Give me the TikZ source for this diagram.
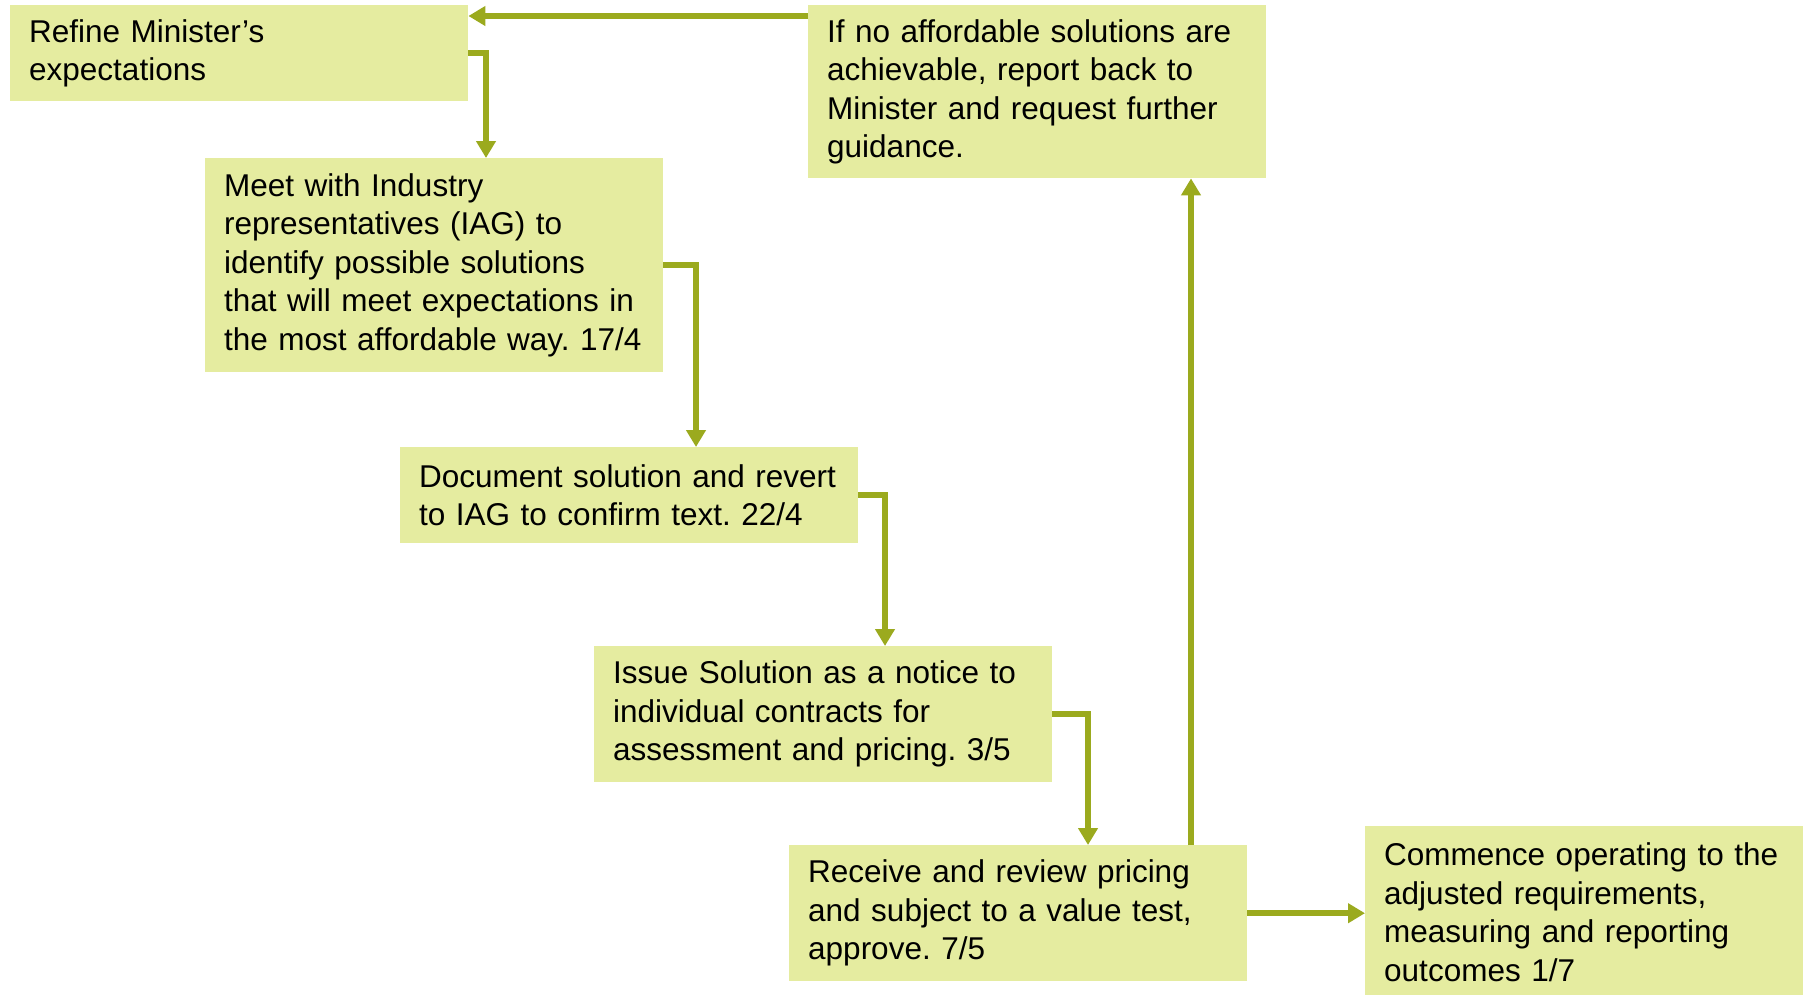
\documentclass[tikz,border=0pt]{standalone}
\usepackage{fontspec}
\setmainfont{Liberation Sans}
\usetikzlibrary{arrows.meta}
\definecolor{boxfill}{RGB}{229,236,160}
\definecolor{flowline}{RGB}{155,170,30}
\newcommand{\stepfont}{\fontsize{31.5}{38.4}\selectfont\frenchspacing\hyphenpenalty=10000\relax}
\begin{document}
\begin{tikzpicture}[x=1pt,y=-1pt,
  stepbox/.style={draw=none, fill=boxfill, anchor=north west,
    inner xsep=19pt, inner ysep=0pt, text width=420pt, align=left,
    font=\stepfont},
  flow/.style={draw=flowline, line width=6.5pt,
    -{Triangle[width=19pt,length=17pt]}}]
\useasboundingbox (0,0) rectangle (1803,994);

% process steps
\node[stepbox, minimum height=96pt] (A) at (10,5)
  {Refine Minister’s\\expectations};
\node[stepbox, minimum height=214pt] (B) at (205,158)
  {Meet with Industry\\representatives (IAG) to\\identify possible solutions\\that will meet expectations in\\the most affordable way. 17/4};
\node[stepbox, minimum height=96pt] (C) at (400,447)
  {Document solution and revert\\to IAG to confirm text. 22/4};
\node[stepbox, minimum height=136pt] (D) at (594,646)
  {Issue Solution as a notice to\\individual contracts for\\assessment and pricing. 3/5};
\node[stepbox, minimum height=136pt] (E) at (789,845)
  {Receive and review pricing\\and subject to a value test,\\approve. 7/5};
\node[stepbox, minimum height=173pt] (F) at (808,5)
  {If no affordable solutions are\\achievable, report back to\\Minister and request further\\guidance.};
\node[stepbox, minimum height=172pt] (G) at (1365,826)
  {Commence operating to the\\adjusted requirements,\\measuring and reporting\\outcomes 1/7};

% connectors
\draw[flow] (A.east) -| ([xshift=281pt]B.north west);
\draw[flow] (B.east) -| ([xshift=296pt]C.north west);
\draw[flow] (C.east) -| ([xshift=291pt]D.north west);
\draw[flow] (D.east) -| ([xshift=299pt]E.north west);
\coordinate (up) at ([xshift=402pt]E.north west);
\draw[flow] (up) -- (up |- F.south);
\draw[flow] ([yshift=-11pt]F.north west) -- ([yshift=-11pt]F.north west -| A.east);
\draw[flow] (E.east) -- (E.east -| G.west);
\end{tikzpicture}
\end{document}
